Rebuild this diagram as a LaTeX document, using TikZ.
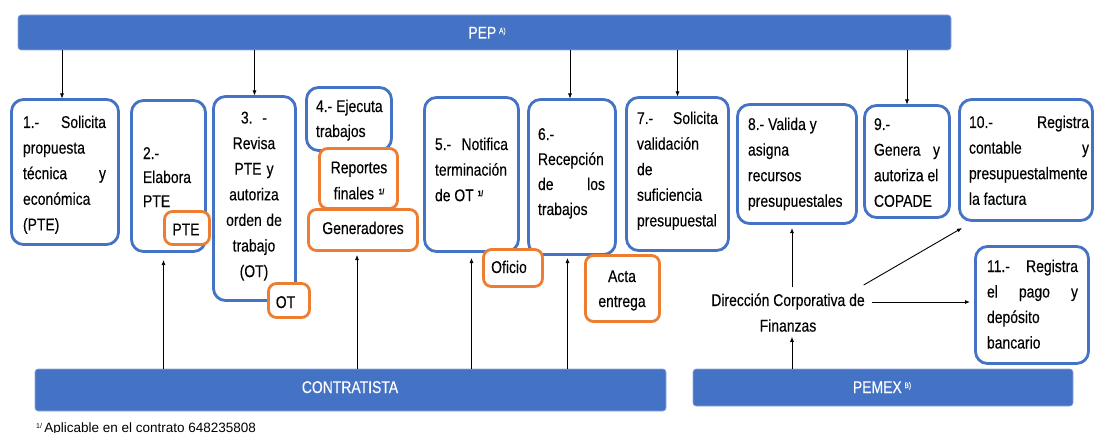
\documentclass[tikz,border=0pt]{standalone}
\usepackage{fontspec}
\setmainfont{Liberation Sans}[FakeStretch=0.82,FakeBold=0.25]
\newfontfamily\plainfont{Liberation Sans}
\usetikzlibrary{arrows.meta,calc}
\definecolor{myblue}{HTML}{4472C4}
\definecolor{myorange}{HTML}{ED7D31}
\definecolor{baredge}{HTML}{8FAADC}
\newcommand{\myfs}{\fontsize{17}{25.6}\selectfont}
\newcommand{\sprd}{\hskip 0pt plus 1filll\relax}
\newcommand{\supone}{\raisebox{5pt}{\fontsize{8}{8}\selectfont\bfseries 1/}}
\newcommand{\fr}{\spaceskip=0pt\relax\xspaceskip=0pt\relax\rule{0pt}{13pt}}
\tikzset{
  bbox/.style={draw=myblue, line width=2.8pt, rounded corners=12pt, fill=white, inner sep=0pt, outer sep=0pt, anchor=north west},
  obox/.style={draw=myorange, line width=2.8pt, rounded corners=8pt, fill=white, inner sep=0pt, outer sep=0pt, anchor=north west},
  bar/.style={fill=myblue, draw=baredge, line width=0.6pt, rounded corners=3pt, inner sep=0pt, outer sep=0pt},
  txt/.style={inner sep=0pt, outer sep=0pt, font=\myfs, anchor=north west, align=left},
  txtc/.style={inner sep=0pt, outer sep=0pt, font=\myfs, anchor=north, align=center},
  one/.style={inner sep=0pt, outer sep=0pt, font=\myfs, anchor=base},
  bartxt/.style={inner sep=0pt, outer sep=0pt, font=\myfs, anchor=base, text=white},
  arr/.style={-{Latex[length=5pt,width=4pt]}, line width=0.7pt, black},
}
\begin{document}
\begin{tikzpicture}[x=1pt, y=-1pt]
\useasboundingbox (0,0) rectangle (1097,433);
% bars
\node[bar, minimum width=933pt, minimum height=35pt] (pep) at (484.5,32.5) {};
\node[bar, minimum width=631pt, minimum height=42pt] (con) at (350.5,390) {};
\node[bar, minimum width=380pt, minimum height=37pt] (pemex) at (883,387.5) {};
\node[bartxt] (lpep) at (487,38.5) {PEP\,\raisebox{5pt}{\fontsize{8}{8}\selectfont A)}};
\node[bartxt] (lcon) at (350,393) {CONTRATISTA};
\node[bartxt] (lpemex) at (882,393) {PEMEX\,\raisebox{5pt}{\fontsize{8}{8}\selectfont B)}};
% blue boxes
\node[bbox, minimum width=107pt, minimum height=145pt] (b1) at (11.5,99.5) {};
\node[bbox, minimum width=74pt, minimum height=151pt] (b2) at (131.5,100.5) {};
\node[bbox, minimum width=82pt, minimum height=204pt] (b3) at (213.5,96.5) {};
\node[bbox, minimum width=85pt, minimum height=63pt] (b4) at (306.5,87.5) {};
\node[bbox, minimum width=94pt, minimum height=154pt] (b5) at (424.5,97.5) {};
\node[bbox, minimum width=87pt, minimum height=155pt] (b6) at (528.5,99.5) {};
\node[bbox, minimum width=102pt, minimum height=153pt] (b7) at (626.5,97.5) {};
\node[bbox, minimum width=119pt, minimum height=119pt] (b8) at (737.5,104.5) {};
\node[bbox, minimum width=85pt, minimum height=112pt] (b9) at (864.5,105.5) {};
\node[bbox, minimum width=133pt, minimum height=121pt] (b10) at (959.5,99.5) {};
\node[bbox, minimum width=113pt, minimum height=117pt] (b11) at (975.5,246.5) {};
% orange boxes
\node[obox, minimum width=78pt, minimum height=60pt] (rep) at (319.5,148.5) {};
\node[obox, minimum width=109pt, minimum height=41pt] (gen) at (308.5,209.5) {};
\node[obox, minimum width=45pt, minimum height=33pt] (pte) at (164.5,211.5) {};
\node[obox, minimum width=41pt, minimum height=34pt] (ot) at (268.5,283.5) {};
\node[obox, minimum width=59pt, minimum height=37pt] (ofi) at (483.5,249.5) {};
\node[obox, minimum width=74pt, minimum height=66pt] (acta) at (585.5,255.5) {};
% texts
\node[txt, text width=83pt] (t1) at (23,115) {\fr 1.-\sprd Solicita\\propuesta\\técnica\sprd y\\económica\\(PTE)};
\node[txt, text width=62pt, font=\fontsize{17}{24}\selectfont] (t2) at (143,146) {\fr 2.-\\Elabora\\PTE};
\node[txtc, text width=80pt] (t3) at (254,110.5) {\fr 3. -\\Revisa\\PTE y\\autoriza\\orden de\\trabajo\\(OT)};
\node[txt, text width=72pt, font=\fontsize{17}{25}\selectfont] (t4) at (316,99) {\fr 4.- Ejecuta\\trabajos};
\node[txt, text width=73pt] (t5) at (435,137) {\fr 5.-\sprd Notifica\\terminación\\de OT \supone};
\node[txt, text width=67pt, font=\fontsize{17}{25}\selectfont] (t6) at (538,127) {\fr 6.-\\Recepción\\de\sprd los\\trabajos};
\node[txt, text width=81pt] (t7) at (637,111) {\fr 7.-\sprd Solicita\\validación\\de\\suficiencia\\presupuestal};
\node[txt, text width=105pt] (t8) at (748,117) {\fr 8.- Valida y\\asigna\\recursos\\presupuestales};
\node[txt, text width=66pt] (t9) at (874,117) {\fr 9.-\\Genera\sprd y\\autoriza el\\COPADE};
\node[txt, text width=120pt] (t10) at (969,115) {\fr 10.-\sprd Registra\\contable\sprd y\\presupuestalmente\\la factura};
\node[txt, text width=91pt, font=\fontsize{17}{25.5}\selectfont] (t11) at (987,259) {\fr 11.-\sprd Registra\\el\sprd pago\sprd y\\depósito\\bancario};
\node[txtc, text width=80pt, font=\fontsize{17}{26}\selectfont] (trep) at (359,160.3) {\fr Reportes\\finales \supone};
\node[txtc, text width=76pt, font=\fontsize{17}{25}\selectfont] (tacta) at (622,269) {\fr Acta\\entrega};
\node[one] (tgen) at (363,234) {Generadores};
\node[one] (tpte) at (186,235.3) {PTE};
\node[one] (tot) at (285.5,308) {OT};
\node[one] (tofi) at (509,273) {Oficio};
\node[txtc] (dir) at (788,293) {\fr Dirección Corporativa de\\Finanzas};
\node[inner sep=0pt, anchor=base west, font=\plainfont\fontsize{13.5}{14}\selectfont] (fn) at (36,432) {\raisebox{4pt}{\fontsize{7}{7}\selectfont 1/}\,Aplicable en el contrato 648235808};
% arrows from PEP
\coordinate (p1) at ($(b1.north)+(-3,0)$);
\draw[arr, shorten >=1pt] (p1 |- pep.south) -- (p1);
\draw[arr, shorten >=1pt] (b3.north |- pep.south) -- (b3.north);
\coordinate (p6) at ($(b6.north)+(-2,0)$);
\draw[arr, shorten >=1pt] (p6 |- pep.south) -- (p6);
\draw[arr, shorten >=1pt] (b7.north |- pep.south) -- (b7.north);
\draw[arr, shorten >=1pt] (b9.north |- pep.south) -- (b9.north);
% arrows from CONTRATISTA
\coordinate (c2) at ($(b2.south)+(-5,8.5)$);
\draw[arr] (c2 |- con.north) -- (c2);
\coordinate (c4) at ($(gen.south)+(-6,4.5)$);
\draw[arr] (c4 |- con.north) -- (c4);
\coordinate (c5) at ($(b5.south)+(0,6.5)$);
\draw[arr] (c5 |- con.north) -- (c5);
\coordinate (c6) at ($(b6.south)+(-4.5,3.5)$);
\draw[arr] (c6 |- con.north) -- (c6);
% PEMEX side
\coordinate (dp) at ($(dir.south)+(4,5)$);
\draw[arr, line width=0.9pt] (dp |- pemex.north) -- (dp);
\coordinate (d8) at ($(dir.north)+(4,-6)$);
\draw[arr, line width=0.9pt, shorten >=4.5pt] (d8) -- (d8 |- b8.south);
\coordinate (d10) at ($(dir.north east)+(-1,-8)$);
\draw[arr, line width=0.9pt] (d10) -- ($(b10.south west)+(2.5,7.5)$);
\coordinate (d11) at ($(dir.north east)+(7,9)$);
\draw[arr, line width=0.9pt, shorten >=5.5pt] (d11) -- (d11 -| b11.west);
\end{tikzpicture}
\end{document}
